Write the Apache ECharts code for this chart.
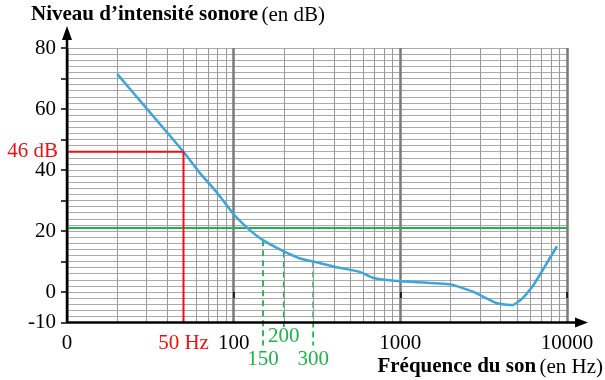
<!DOCTYPE html>
<html><head><meta charset="utf-8">
<script src="https://cdn.jsdelivr.net/npm/echarts@6/dist/echarts.min.js"></script>
<style>html,body{margin:0;padding:0;background:#fff}#c{width:605px;height:380px}</style>
</head><body><div id="c"></div>
<script>
const freqs = [20, 30, 50, 63, 80, 100, 125, 150, 200, 250, 300, 400, 570, 700, 1000, 2000, 2700, 3800, 4700, 5400, 6300, 8700];
const levels = [71.5, 60.2, 46, 38.9, 32.4, 25.5, 20.3, 17, 13.3, 11, 10, 8.3, 6.6, 4.5, 3.5, 2.5, 0.2, -3.7, -4.3, -2.1, 2.3, 15];
const xTickLabels = {10: '0', 100: '100', 1000: '1000', 10000: '10000'};
const yTickLabels = [80, 60, 40, 20, 0, -10];
const minorFreqs = [20,30,40,50,60,70,80,90,200,300,400,500,600,700,800,900,2000,3000,4000,5000,6000,7000,8000,9000];
const readFreq = 50, readLevel = 46;
const threshold = 21;
const greenFreqs = [150, 200, 300];
const greenLevels = [17, 13.3, 10];
const greenEnds = [-17.5, -11.5, -17.5];

const serif = '"Liberation Serif", "DejaVu Serif", serif';
const FS = 21;
const chart = echarts.init(document.getElementById('c'));
const curve = freqs.map((f, i) => [f, levels[i]]);
const series = [
  {
    type: 'line', data: curve, smooth: 0.15, symbol: 'none',
    lineStyle: {color: '#3ba6dd', width: 2.5}, z: 5,
    markLine: {
      silent: true, symbol: 'none', label: {show: false}, animation: false,
      lineStyle: {color: '#999', width: 1, type: 'solid'},
      data: minorFreqs.map(v => ({xAxis: v}))
    }
  },
  {
    type: 'line', data: [], markLine: {
      silent: true, symbol: 'none', label: {show: false}, animation: false,
      lineStyle: {color: '#1db34a', width: 2, type: 'solid'},
      data: [{yAxis: threshold}]
    }, z: 4
  },
  {
    type: 'line', data: [[10, readLevel], [readFreq, readLevel], [readFreq, -10]],
    symbol: 'none', lineStyle: {color: '#f01010', width: 2}, z: 6
  }
];
greenFreqs.forEach((f, i) => {
  series.push({type: 'line', clip: false, data: [[f, greenLevels[i]], [f, greenEnds[i]]], symbol: 'none',
    lineStyle: {color: '#1db34a', width: 1.8, type: [6, 4]}, z: 4});
});
chart.setOption({
  animation: false,
  grid: {left: 67, right: 38, top: 48, bottom: 57.5},
  xAxis: {
    type: 'log', logBase: 10, min: 10, max: 10000,
    axisLine: {show: false},
    axisTick: {show: true, length: 6, lineStyle: {color: '#000', width: 1.5}},
    axisLabel: {margin: 10, color: '#000', fontFamily: serif, fontSize: FS,
      formatter: v => xTickLabels[Math.round(v)] || ''},
    splitLine: {show: true, lineStyle: {color: '#7a7a7a', width: 2.5}}
  },
  yAxis: {
    type: 'value', min: -10, max: 80, interval: 10,
    axisLine: {show: false},
    axisTick: {show: true, length: 6, lineStyle: {color: '#000', width: 1.5}},
    axisLabel: {margin: 11, color: '#000', fontFamily: serif, fontSize: FS,
      formatter: v => yTickLabels.includes(v) ? String(v) : ''},
    splitLine: {show: true, lineStyle: {color: '#aaa', width: 1.2}},
    minorTick: {show: false, splitNumber: 5},
    minorSplitLine: {show: true, lineStyle: {color: '#aaa', width: 1.2}}
  },
  series: series
});

function px(x, y) { return chart.convertToPixel({gridIndex: 0}, [x, y]); }
const o = px(10, -10);
const topP = px(10, 80);
const rightP = px(10000, -10);
const a50 = px(readFreq, -10);
const l46 = px(10, readLevel);
const graphics = [
  {type: 'line', shape: {x1: o[0], y1: o[1], x2: o[0], y2: topP[1] - 14}, style: {stroke: '#000', lineWidth: 2.5}, z: 10},
  {type: 'polygon', shape: {points: [[o[0], topP[1] - 22], [o[0] - 5, topP[1] - 8], [o[0] + 5, topP[1] - 8]]}, style: {fill: '#000'}, z: 10},
  {type: 'line', shape: {x1: o[0], y1: o[1], x2: rightP[0] + 12, y2: o[1]}, style: {stroke: '#000', lineWidth: 2.5}, z: 10},
  {type: 'polygon', shape: {points: [[rightP[0] + 21, o[1]], [rightP[0] + 8, o[1] - 5], [rightP[0] + 8, o[1] + 5]]}, style: {fill: '#000'}, z: 10},
  {type: 'text', x: l46[0] - 9, y: l46[1], style: {text: readLevel + ' dB', fill: '#f01010', font: FS + 'px ' + serif, align: 'right', verticalAlign: 'middle'}, z: 10},
  {type: 'text', x: a50[0], y: a50[1] + 21, style: {text: readFreq + ' Hz', fill: '#f01010', font: FS + 'px ' + serif, align: 'center', verticalAlign: 'middle', backgroundColor: '#fff'}, z: 10},
  {type: 'text', x: 31, y: 15, style: {rich: {b: {font: 'bold ' + FS + 'px ' + serif, fill: '#000'}, n: {font: FS + 'px ' + serif, fill: '#000'}}, text: '{b|Niveau d\u2019intensité sonore} {n|(en dB)}', verticalAlign: 'middle'}, z: 10},
  {type: 'text', x: 603, y: 367, style: {rich: {b: {font: 'bold ' + FS + 'px ' + serif, fill: '#000'}, n: {font: FS + 'px ' + serif, fill: '#000'}}, text: '{b|Fréquence du son} {n|(en Hz)}', align: 'right', verticalAlign: 'middle'}, z: 10}
];
const gLabelDy = [37, 14, 37];
greenFreqs.forEach((f, i) => {
  const p = px(f, -10);
  graphics.push({type: 'text', x: p[0], y: p[1] + gLabelDy[i], style: {text: String(f), fill: '#1db34a', font: FS + 'px ' + serif, align: 'center', verticalAlign: 'middle'}, z: 10});
});
chart.setOption({graphic: graphics});
</script></body></html>
